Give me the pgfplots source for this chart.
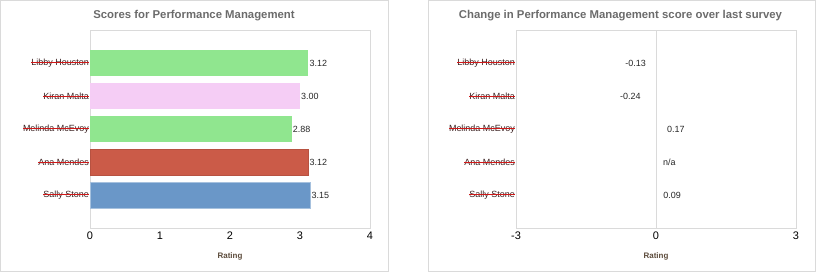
\documentclass[border=0pt]{standalone}
\usepackage{pgfplots}
\pgfplotsset{compat=1.18}
\usepackage{fontspec}
\setmainfont{Liberation Sans}
\definecolor{lgreen}{HTML}{90E68F}
\definecolor{lpink}{HTML}{F5CDF5}
\definecolor{lred}{HTML}{CB5B48}
\definecolor{lblue}{HTML}{6A97C8}
\definecolor{strikec}{HTML}{D01818}
\definecolor{namec}{HTML}{3A2020}
\definecolor{titlec}{HTML}{6B6B6B}
\definecolor{ratingc}{HTML}{5C4B3B}
\definecolor{framec}{HTML}{DADADA}
\newlength\strklen
\newcommand\strk[1]{\settowidth\strklen{#1}\textcolor{namec}{#1}\hspace{-\strklen}\textcolor{strikec}{\rule[0.3em]{\strklen}{1pt}}}
\pgfplotstableread{
y v lab
0 0.09 0.09
2 0.17 0.17
}\chpos
\pgfplotstableread{
y v lab
3 -0.24 -0.24
4 -0.13 -0.13
}\chneg
\pgfplotstableread{
y v lab
1 0 n/a
}\chna
\pgfplotsset{
  panel/.style={
    scale only axis, width=280bp, height=198bp,
    xbar, bar shift=0pt, bar width=26bp,
    ymin=-1, ymax=5, ytick={0,1,2,3,4},
    yticklabels={{\strk{Sally Stone}},{\strk{Ana Mendes}},{\strk{Melinda McEvoy}},{\strk{Kiran Malta}},{\strk{Libby Houston}}},
    yticklabel style={font=\fontsize{9}{10}\selectfont, inner sep=1pt},
    xticklabel style={font=\fontsize{11}{13}\selectfont, text=black, inner sep=1pt, yshift=-3bp},
    /pgf/number format/assume math mode=true,
    major tick length=0pt,
    axis line style={framec},
    xlabel={Rating},
    xlabel style={font=\bfseries\fontsize{8}{10}\selectfont, text=ratingc, at={(axis description cs:0.5,0)}, anchor=center, yshift=-28bp},
    clip=false,
  }
}
\begin{document}
\begin{tikzpicture}
\useasboundingbox (0bp,0bp) rectangle (816bp,272bp);
\draw[framec] (0.5bp,0.5bp) rectangle (388bp,271.5bp);
\draw[framec] (428bp,0.5bp) rectangle (815.5bp,271.5bp);
\node[font=\bfseries\fontsize{11.4}{13}\selectfont, text=titlec] at (194bp,256.5bp) {Scores for Performance Management};
\node[font=\bfseries\fontsize{11.4}{13}\selectfont, text=titlec] at (620.5bp,256.5bp) {Change in Performance Management score over last survey};
\begin{axis}[panel, at={(90bp,44bp)}, anchor=south west,
  xmin=0, xmax=4, xtick={0,1,2,3,4},
  nodes near coords={\pgfmathprintnumber[fixed,fixed zerofill,precision=2]{\pgfplotspointmeta}},
  nodes near coords style={font=\fontsize{9}{10}\selectfont, text=black!85, inner sep=1pt, anchor=west},
  point meta=x]
\addplot[fill=lblue, draw=lblue!60!white] table[x=v,y=y] {
y v
0 3.15
};
\addplot[fill=lred, draw=lred!90!black] table[x=v,y=y] {
y v
1 3.12
};
\addplot[fill=lgreen, draw=none] table[x=v,y=y] {
y v
2 2.88
};
\addplot[fill=lpink, draw=none] table[x=v,y=y] {
y v
3 3.00
};
\addplot[fill=lgreen, draw=none] table[x=v,y=y] {
y v
4 3.12
};
\end{axis}
\begin{axis}[panel, at={(516bp,44bp)}, anchor=south west,
  xmin=-3, xmax=3, xtick={-3,0,3},
  nodes near coords={\pgfplotspointmeta},
  nodes near coords style={font=\fontsize{9}{10}\selectfont, text=black!85, inner sep=1pt},
  point meta=explicit symbolic]
\draw[framec] (axis cs:0,-1) -- (axis cs:0,5);
\addplot[draw=none, fill=none, nodes near coords style={anchor=west, xshift=2bp}] table[x=v,y=y,meta=lab] {\chpos};
\addplot[draw=none, fill=none, nodes near coords style={anchor=east, xshift=-3bp}] table[x=v,y=y,meta=lab] {\chneg};
\addplot[draw=none, fill=none, nodes near coords style={anchor=west, xshift=6bp}] table[x=v,y=y,meta=lab] {\chna};
\end{axis}
\end{tikzpicture}
\end{document}
